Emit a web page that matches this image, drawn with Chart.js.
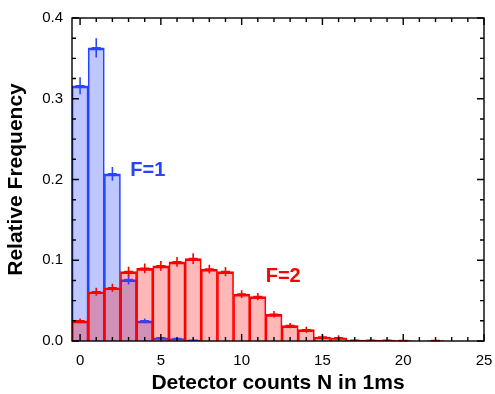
<!DOCTYPE html>
<html>
<head>
<meta charset="utf-8">
<script src="https://cdn.jsdelivr.net/npm/chart.js@4/dist/chart.umd.min.js"></script>
<style>
  html, body { margin: 0; padding: 0; background: #fff; }
  #wrap { width: 495px; height: 394px; }
</style>
</head>
<body>
<div id="wrap"><canvas id="myChart" width="495" height="394"></canvas></div>
<script>
// detector counts N (bin centres)
const counts = [0, 1, 2, 3, 4, 5, 6, 7, 8, 9, 10, 11, 12, 13, 14, 15, 16, 17, 18, 19, 20, 21, 22, 23, 24]

// F=1 histogram
const blueFreq = [0.316, 0.363, 0.207, 0.076, 0.025, 0.004, 0.003, 0.001]
const blueErr = [0.0105, 0.012, 0.0085, 0.006, 0.003, 0.001, 0.001, 0.001]

// F=2 histogram
const redFreq = [0.025, 0.061, 0.066, 0.086, 0.090, 0.093, 0.098, 0.102, 0.089, 0.086, 0.058, 0.055,
  0.033, 0.019, 0.014, 0.005, 0.004, 0.001, 0.001, 0.001, 0.0005, 0, 0.0005, 0, 0]
const redErr = [0.003, 0.005, 0.005, 0.006, 0.006, 0.006, 0.006, 0.0066, 0.0055, 0.0057, 0.0047, 0.0045,
  0.004, 0.0033, 0.0037, 0.003, 0.003, 0.001, 0.001, 0.001, 0.0005, 0, 0.0005, 0, 0]

// tick positions (labels only on the major ones)
const xTicks = [0, 1, 2, 3, 4, 5, 6, 7, 8, 9, 10, 11, 12, 13, 14, 15, 16, 17, 18, 19, 20, 21, 22, 23, 24, 25]
const xMajor = [0, 5, 10, 15, 20, 25]
const yTicks = [0, 0.025, 0.05, 0.075, 0.1, 0.125, 0.15, 0.175, 0.2, 0.225, 0.25, 0.275, 0.3, 0.325, 0.35, 0.375, 0.4]
const yMajor = [0, 0.1, 0.2, 0.3, 0.4]

const labels = [{ text: 'F=1', x: 4.19, y: 0.211, color: 'rgb(40,70,245)' },
                { text: 'F=2', x: 12.57, y: 0.080, color: 'rgb(255,0,0)' }]

const blue = 'rgb(40,70,255)'
const red = 'rgb(255,0,0)'
const font = '"Liberation Sans", Arial, sans-serif'

let toPoints = (freq) => freq.map((v, i) => ({ x: counts[i], y: v }))
let isMajor = (list, v) => list.some(m => Math.abs(m - v) < 1e-9)

// error crosses, boxed frame with inward ticks, and the F labels
const decorations = {
  id: 'decorations',
  afterDatasetsDraw(chart) {
    const c = chart.ctx
    const a = chart.chartArea
    const x = chart.scales.x
    const y = chart.scales.y
    c.save()

    let crosses = (freq, err, color) => {
      c.strokeStyle = color
      c.lineWidth = 1.6
      for (let i = 0; i < freq.length; i++) {
        if (freq[i] <= 0) continue
        let px = x.getPixelForValue(counts[i])
        let py = y.getPixelForValue(freq[i])
        c.beginPath()
        c.moveTo(px - 4.5, py)
        c.lineTo(px + 4.5, py)
        c.moveTo(px, y.getPixelForValue(freq[i] - err[i]))
        c.lineTo(px, y.getPixelForValue(freq[i] + err[i]))
        c.stroke()
      }
    }
    crosses(blueFreq, blueErr, blue)
    crosses(redFreq, redErr, red)

    c.strokeStyle = '#000'
    c.lineWidth = 1.4
    for (let i = 0; i < xTicks.length; i++) {
      let len = isMajor(xMajor, xTicks[i]) ? 7 : 4
      let px = x.getPixelForValue(xTicks[i])
      c.beginPath()
      c.moveTo(px, a.bottom)
      c.lineTo(px, a.bottom - len)
      c.moveTo(px, a.top)
      c.lineTo(px, a.top + len)
      c.stroke()
    }
    for (let i = 0; i < yTicks.length; i++) {
      let len = isMajor(yMajor, yTicks[i]) ? 7 : 4
      let py = y.getPixelForValue(yTicks[i])
      c.beginPath()
      c.moveTo(a.left, py)
      c.lineTo(a.left + len, py)
      c.moveTo(a.right, py)
      c.lineTo(a.right - len, py)
      c.stroke()
    }
    c.strokeRect(a.left, a.top, a.right - a.left, a.bottom - a.top)

    c.font = 'bold 20px ' + font
    c.textAlign = 'center'
    c.textBaseline = 'middle'
    labels.forEach(l => {
      c.fillStyle = l.color
      c.fillText(l.text, x.getPixelForValue(l.x), y.getPixelForValue(l.y))
    })
    c.restore()
  }
}

let canvas = document.getElementById('myChart')
new Chart(canvas, {
  type: 'bar',
  data: {
    datasets: [{
      label: 'F=1',
      data: toPoints(blueFreq),
      backgroundColor: 'rgba(40,70,255,0.3)',
      borderColor: blue,
      borderWidth: { top: 2, left: 1, right: 1, bottom: 0 },
      grouped: false,
      order: 2,
      barPercentage: 1,
      categoryPercentage: 1
    }, {
      label: 'F=2',
      data: toPoints(redFreq),
      backgroundColor: 'rgba(255,0,0,0.28)',
      borderColor: red,
      borderWidth: { top: 2, left: 1, right: 1, bottom: 0 },
      grouped: false,
      order: 1,
      barPercentage: 1,
      categoryPercentage: 1
    }]
  },
  options: {
    responsive: false,
    animation: false,
    layout: { padding: { top: 17, right: 11, left: 0, bottom: 0 } },
    plugins: { legend: { display: false }, tooltip: { enabled: false } },
    scales: {
      x: {
        type: 'linear',
        min: -0.5,
        max: 25,
        bounds: 'data',
        offset: false,
        grid: { display: false, drawTicks: false },
        border: { display: false },
        afterBuildTicks: (s) => { s.ticks = xTicks.map(v => ({ value: v })) },
        ticks: {
          autoSkip: false,
          maxRotation: 0,
          padding: 11,
          color: '#000',
          font: { family: font, size: 15 },
          callback: (v) => (isMajor(xMajor, v) ? String(v) : '')
        },
        title: {
          display: true,
          text: 'Detector counts N in 1ms',
          color: '#000',
          font: { family: font, size: 21, weight: 'bold', lineHeight: 1 },
          padding: 0
        },
        afterFit: (s) => {
          s.height = 53
          s.paddingLeft = 0
          s.paddingRight = 0
        }
      },
      y: {
        min: 0,
        max: 0.4,
        grid: { display: false, drawTicks: false },
        border: { display: false },
        afterBuildTicks: (s) => { s.ticks = yTicks.map(v => ({ value: v })) },
        ticks: {
          autoSkip: false,
          padding: 9,
          color: '#000',
          font: { family: font, size: 15 },
          callback: (v) => (isMajor(yMajor, v) ? v.toFixed(1) : '')
        },
        title: {
          display: true,
          text: 'Relative Frequency',
          color: '#000',
          font: { family: font, size: 21, weight: 'bold', lineHeight: 1 },
          padding: { top: 6, bottom: 0 }
        },
        afterFit: (s) => { s.width = 72 }
      }
    }
  },
  plugins: [decorations]
})
</script>
</body>
</html>
